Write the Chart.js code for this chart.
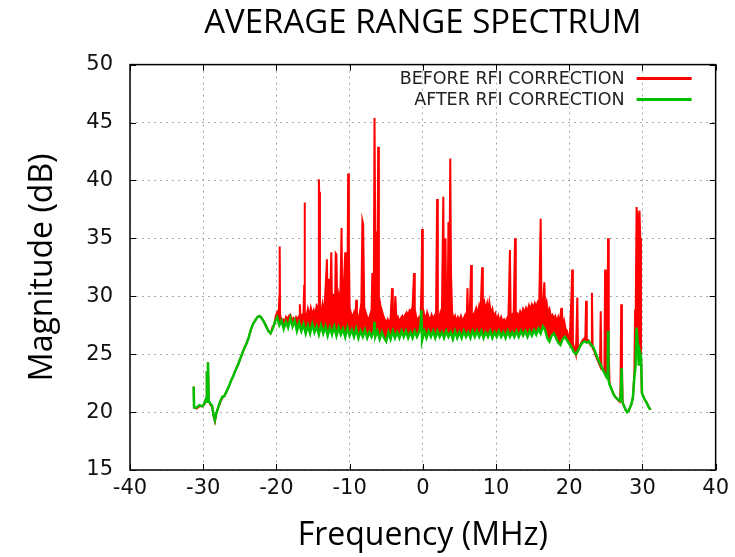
<!DOCTYPE html>
<html>
<head>
<meta charset="utf-8">
<script src="https://cdn.jsdelivr.net/npm/chart.js@4.4.0/dist/chart.umd.min.js"></script>
<style>
  body { margin: 0; background: #fff; }
  canvas { display: block; }
</style>
</head>
<body>
<canvas id="spectrum" width="735" height="557"></canvas>
<script>
// axis ticks
const xTicks = [-40, -30, -20, -10, 0, 10, 20, 30, 40];
const yTicks = [15, 20, 25, 30, 35, 40, 45, 50];

const seriesLabels = ['BEFORE RFI CORRECTION', 'AFTER RFI CORRECTION'];
const seriesColors = ['#ff0000', '#00c000'];

// [frequency MHz, magnitude dB] (upper edge of the red trace)
const beforeRfi = [
  [-31.3,22.2],[-31.25,20.4],[-30.9,20.3],[-30.5,20.5],[-30.1,20.5],[-29.8,20.7],[-29.6,21.1],[-29.5,23.5],
  [-29.45,20.9],[-29.35,24.3],[-29.25,21.0],[-29.0,20.6],[-28.8,20.5],[-28.6,19.7],[-28.4,19.2],[-28.2,19.9],
  [-28.0,20.3],[-27.7,20.8],[-27.4,21.2],[-27.1,21.4],[-26.8,21.8],[-26.5,22.2],[-26.2,22.7],[-25.9,23.1],
  [-25.6,23.6],[-25.3,24.0],[-25.0,24.5],[-24.7,25.0],[-24.4,25.5],[-24.1,25.9],[-23.8,26.4],[-23.5,27.1],
  [-23.2,27.6],[-22.9,27.9],[-22.6,28.2],[-22.3,28.3],[-22.0,28.1],[-21.7,27.8],[-21.4,27.4],[-21.1,27.0],
  [-20.8,26.8],[-20.5,27.4],[-20.3,27.5],[-20.1,28.3],[-19.9,28.6],[-19.7,28.2],[-19.6,30.0],[-19.55,34.3],
  [-19.5,28.4],[-19.3,27.9],[-19.1,28.0],[-18.9,27.7],[-18.7,28.2],[-18.5,28.0],[-18.3,28.3],[-18.1,28.4],
  [-17.9,27.9],[-17.7,28.1],[-17.5,27.8],[-17.3,28.2],[-17.1,28.0],[-16.9,28.3],[-16.8,29.3],[-16.7,28.1],
  [-16.5,28.4],[-16.3,28.5],[-16.2,31.0],[-16.15,38.1],[-16.1,28.6],[-15.9,28.2],[-15.7,28.9],[-15.5,28.3],
  [-15.3,29.0],[-15.1,28.4],[-14.9,28.8],[-14.7,28.3],[-14.5,29.2],[-14.3,29.0],[-14.2,40.1],[-14.15,39.0],
  [-14.05,28.8],[-13.9,28.5],[-13.7,29.3],[-13.5,28.4],[-13.3,30.5],[-13.1,33.2],[-13.0,28.7],[-12.8,31.5],
  [-12.7,28.6],[-12.5,33.8],[-12.4,28.8],[-12.2,30.2],[-12.0,28.5],[-11.9,33.7],[-11.8,33.6],[-11.7,28.9],
  [-11.5,30.0],[-11.3,28.6],[-11.1,35.9],[-11.0,29.0],[-10.8,30.8],[-10.6,33.8],[-10.5,28.8],[-10.3,29.5],
  [-10.2,40.6],[-10.1,34.3],[-10.0,29.0],[-9.8,28.5],[-9.6,28.2],[-9.4,28.6],[-9.2,28.0],[-9.1,29.7],
  [-9.0,28.3],[-8.8,28.1],[-8.6,28.6],[-8.4,29.4],[-8.25,36.5],[-8.15,36.2],[-8.0,29.0],[-7.8,28.6],
  [-7.6,28.2],[-7.4,27.9],[-7.2,28.4],[-7.0,28.8],[-6.9,32.0],[-6.7,30.0],[-6.6,45.4],[-6.5,35.6],
  [-6.4,33.0],[-6.2,30.5],[-6.1,42.9],[-6.0,30.0],[-5.8,29.2],[-5.6,28.8],[-5.4,28.3],[-5.2,28.0],
  [-5.0,27.7],[-4.8,28.0],[-4.6,27.6],[-4.4,28.1],[-4.2,30.7],[-4.1,27.8],[-3.9,28.0],[-3.75,30.0],
  [-3.6,27.9],[-3.4,28.2],[-3.2,27.8],[-3.0,28.1],[-2.8,28.3],[-2.6,28.0],[-2.4,28.4],[-2.2,28.6],
  [-2.0,28.3],[-1.8,28.8],[-1.6,28.7],[-1.4,29.1],[-1.2,32.0],[-1.1,28.9],[-0.9,28.2],[-0.7,27.9],
  [-0.5,28.2],[-0.3,28.0],[-0.15,32.0],[-0.1,35.8],[0.0,29.0],[0.2,28.4],[0.4,28.0],[0.6,28.6],
  [0.8,28.2],[1.0,27.9],[1.2,28.4],[1.4,28.0],[1.6,28.3],[1.8,28.0],[1.95,38.4],[2.05,28.4],
  [2.2,28.0],[2.4,28.6],[2.6,28.2],[2.8,38.6],[2.9,28.5],[3.1,35.0],[3.2,28.4],[3.4,29.0],
  [3.5,36.4],[3.6,28.8],[3.75,41.9],[3.85,32.0],[4.0,28.6],[4.2,28.0],[4.4,28.3],[4.6,27.8],
  [4.8,28.2],[5.0,27.9],[5.2,28.3],[5.4,27.9],[5.6,28.1],[5.8,28.4],[6.0,28.0],[6.1,30.7],
  [6.2,28.1],[6.4,28.3],[6.6,32.7],[6.7,28.2],[6.9,28.4],[7.1,28.6],[7.3,29.0],[7.5,28.5],
  [7.7,29.2],[7.9,28.7],[8.1,32.5],[8.2,29.0],[8.4,29.5],[8.6,28.8],[8.8,29.4],[9.0,28.6],
  [9.1,29.4],[9.3,28.5],[9.5,28.9],[9.7,28.2],[9.9,28.5],[10.1,27.9],[10.3,28.3],[10.5,27.8],
  [10.7,28.2],[10.9,27.8],[11.1,28.0],[11.3,27.7],[11.5,28.1],[11.7,28.3],[11.9,34.0],[12.0,28.2],
  [12.2,28.4],[12.4,28.0],[12.6,35.0],[12.7,28.3],[12.9,28.5],[13.1,28.2],[13.3,28.7],[13.5,28.4],
  [13.7,28.9],[13.9,28.6],[14.1,29.0],[14.3,28.7],[14.5,29.2],[14.7,28.8],[14.9,29.3],[15.1,29.0],
  [15.3,29.4],[15.5,29.1],[15.7,29.5],[15.9,29.2],[16.1,36.7],[16.2,29.5],[16.4,29.0],[16.6,31.2],
  [16.7,29.0],[16.9,29.5],[17.1,28.6],[17.3,28.9],[17.5,28.2],[17.7,28.4],[17.9,28.1],[18.1,28.3],
  [18.3,27.8],[18.5,28.2],[18.7,27.6],[18.9,28.9],[19.0,29.0],[19.1,27.5],[19.3,27.9],[19.5,27.2],
  [19.7,27.0],[19.9,26.4],[20.1,26.8],[20.3,30.0],[20.4,32.3],[20.5,26.0],[20.7,25.5],[20.9,25.0],
  [21.0,27.0],[21.1,29.9],[21.2,25.3],[21.4,25.6],[21.6,25.9],[21.8,26.2],[22.0,26.3],[22.2,26.5],
  [22.3,29.6],[22.4,26.1],[22.6,26.2],[22.8,25.9],[23.0,25.7],[23.1,30.3],[23.2,25.5],[23.4,25.3],
  [23.6,24.9],[23.8,24.6],[24.0,24.3],[24.2,24.0],[24.3,28.7],[24.4,23.8],[24.6,23.6],[24.8,23.4],
  [24.9,32.3],[25.0,23.1],[25.2,23.0],[25.3,35.0],[25.4,25.4],[25.5,22.5],[25.7,22.1],[25.9,21.8],
  [26.1,21.5],[26.3,21.3],[26.5,21.2],[26.7,21.0],[26.9,20.9],[27.0,22.0],[27.1,29.3],[27.2,24.2],
  [27.3,20.8],[27.5,20.5],[27.7,20.2],[27.9,20.0],[28.1,20.1],[28.3,20.4],[28.5,20.7],[28.7,21.2],
  [28.9,23.5],[29.0,28.8],[29.1,30.0],[29.2,37.7],[29.4,36.0],[29.6,37.4],[29.7,35.0],[29.8,25.1],
  [29.9,21.7],[30.1,21.4],[30.3,21.1],[30.5,20.9],[30.7,20.7],[30.9,20.4],[31.1,20.2]
];

const afterRfi = [
  [-31.3,22.2],[-31.25,20.4],[-30.9,20.4],[-30.5,20.6],[-30.1,20.5],[-29.8,20.8],[-29.6,21.2],[-29.5,23.5],
  [-29.45,20.9],[-29.35,24.3],[-29.25,21.0],[-29.0,20.7],[-28.8,20.6],[-28.6,19.8],[-28.4,19.3],[-28.2,19.9],
  [-28.0,20.3],[-27.7,20.9],[-27.4,21.3],[-27.1,21.4],[-26.8,21.8],[-26.5,22.2],[-26.2,22.7],[-25.9,23.1],
  [-25.6,23.6],[-25.3,24.0],[-25.0,24.5],[-24.7,25.0],[-24.4,25.5],[-24.1,25.9],[-23.8,26.4],[-23.5,27.1],
  [-23.2,27.6],[-22.9,27.9],[-22.6,28.2],[-22.3,28.3],[-22.0,28.1],[-21.7,27.8],[-21.4,27.4],[-21.1,27.0],
  [-20.8,26.8],[-20.5,27.2],[-20.2,27.8],[-19.9,28.2],[-19.6,27.5],[-19.3,27.9],[-19.0,27.2],[-18.7,27.8],
  [-18.4,27.3],[-18.1,28.1],[-17.8,27.4],[-17.5,27.9],[-17.2,27.0],[-16.9,27.7],[-16.6,27.0],[-16.3,27.6],
  [-16.0,26.8],[-15.7,27.5],[-15.4,26.8],[-15.1,27.6],[-14.8,26.9],[-14.5,27.4],[-14.2,26.7],[-13.9,27.5],
  [-13.6,26.8],[-13.3,27.4],[-13.0,26.6],[-12.7,27.3],[-12.4,26.7],[-12.1,27.4],[-11.8,26.6],[-11.5,27.3],
  [-11.2,26.7],[-10.9,27.2],[-10.6,26.5],[-10.3,27.3],[-10.0,26.6],[-9.7,27.1],[-9.4,26.5],[-9.1,27.2],
  [-8.8,26.4],[-8.5,27.0],[-8.2,26.5],[-7.9,27.1],[-7.6,26.4],[-7.3,26.9],[-7.0,26.5],[-6.7,27.0],
  [-6.6,27.8],[-6.5,26.5],[-6.2,27.0],[-5.9,26.3],[-5.6,26.9],[-5.3,26.4],[-5.0,26.1],[-4.7,26.9],
  [-4.4,26.3],[-4.1,27.0],[-3.8,26.4],[-3.5,26.9],[-3.2,26.4],[-2.9,27.0],[-2.6,26.5],[-2.3,27.0],
  [-2.0,26.4],[-1.7,26.9],[-1.4,26.4],[-1.1,27.0],[-0.8,26.5],[-0.5,26.9],[-0.3,27.5],[-0.2,28.8],
  [-0.1,26.2],[0.2,27.0],[0.5,26.4],[0.8,27.0],[1.1,26.5],[1.4,27.0],[1.7,26.4],[2.0,27.0],
  [2.3,26.5],[2.6,26.9],[2.9,26.4],[3.2,27.0],[3.5,26.5],[3.8,26.9],[4.1,26.3],[4.4,27.0],
  [4.7,26.4],[5.0,26.9],[5.3,26.4],[5.6,27.0],[5.9,26.5],[6.2,26.9],[6.5,26.4],[6.8,27.0],
  [7.1,26.5],[7.4,27.0],[7.7,26.5],[8.0,27.0],[8.3,26.4],[8.6,26.9],[8.9,26.5],[9.2,27.0],
  [9.5,26.4],[9.8,26.9],[10.1,26.5],[10.4,27.0],[10.7,26.5],[11.0,26.9],[11.3,26.4],[11.6,27.0],
  [11.9,26.5],[12.2,26.9],[12.5,26.5],[12.8,27.0],[13.1,26.5],[13.4,27.0],[13.7,26.6],[14.0,27.0],
  [14.3,26.5],[14.6,27.0],[14.9,26.6],[15.2,27.1],[15.5,26.7],[15.8,27.2],[16.1,26.8],[16.4,27.4],
  [16.7,27.1],[17.0,26.4],[17.3,26.1],[17.6,26.6],[17.9,26.8],[18.2,26.4],[18.5,26.0],[18.8,25.8],
  [19.1,26.3],[19.4,26.5],[19.7,26.2],[20.0,25.9],[20.3,25.6],[20.6,25.2],[20.9,25.0],[21.2,25.3],
  [21.5,25.7],[21.8,26.0],[22.1,26.1],[22.4,26.0],[22.7,26.1],[23.0,25.8],[23.3,25.6],[23.6,25.1],
  [23.9,24.6],[24.2,24.2],[24.5,23.8],[24.8,23.4],[25.1,23.0],[25.25,22.9],[25.3,27.0],[25.35,22.8],
  [25.5,22.4],[25.7,22.1],[26.0,21.6],[26.3,21.3],[26.6,21.1],[26.9,21.0],[27.05,21.5],[27.15,23.8],
  [27.25,20.9],[27.5,20.5],[27.7,20.2],[27.9,20.0],[28.1,20.1],[28.3,20.4],[28.5,20.7],[28.7,21.3],
  [28.9,23.0],[29.05,23.9],[29.2,27.3],[29.35,26.0],[29.5,24.0],[29.65,25.2],[29.8,24.8],[29.95,21.6],
  [30.2,21.2],[30.5,20.9],[30.8,20.5],[31.1,20.2]
];

// gnuplot style frame with inward ticks on all four sides
const framePlugin = {
  id: 'frame',
  afterDatasetsDraw(chart) {
    const ctx = chart.ctx;
    const a = chart.chartArea;
    const x = chart.scales.x, y = chart.scales.y;
    ctx.save();
    ctx.strokeStyle = '#000';
    ctx.lineWidth = 1;
    ctx.beginPath();
    xTicks.forEach(v => {
      const px = Math.round(x.getPixelForValue(v)) + 0.5;
      ctx.moveTo(px, a.bottom); ctx.lineTo(px, a.bottom - 6);
      ctx.moveTo(px, a.top); ctx.lineTo(px, a.top + 6);
    });
    yTicks.forEach(v => {
      const py = Math.round(y.getPixelForValue(v)) + 0.5;
      ctx.moveTo(a.left, py); ctx.lineTo(a.left + 6, py);
      ctx.moveTo(a.right, py); ctx.lineTo(a.right - 6, py);
    });
    ctx.stroke();
    ctx.lineWidth = 1.5;
    ctx.strokeRect(a.left, a.top, a.right - a.left, a.bottom - a.top);
    ctx.restore();
  }
};

// key in the top right corner: text first, then a line sample
const keyPlugin = {
  id: 'key',
  afterDraw(chart) {
    const ctx = chart.ctx;
    const a = chart.chartArea;
    ctx.save();
    ctx.font = '17.5px "DejaVu Sans"';
    ctx.textAlign = 'right';
    ctx.textBaseline = 'alphabetic';
    chart.data.datasets.forEach((ds, i) => {
      const row = a.top + 14 + i * 21;
      ctx.fillStyle = '#222';
      ctx.fillText(ds.label, a.right - 91, row + 5);
      ctx.strokeStyle = ds.borderColor;
      ctx.lineWidth = 3;
      ctx.beginPath();
      ctx.moveTo(a.right - 79, row);
      ctx.lineTo(a.right - 24, row);
      ctx.stroke();
    });
    ctx.restore();
  }
};

const toPoints = rows => rows.map(r => ({ x: r[0], y: r[1] }));

new Chart(document.getElementById('spectrum'), {
  type: 'line',
  data: {
    datasets: [
      { label: seriesLabels[0], data: toPoints(beforeRfi), borderColor: seriesColors[0],
        backgroundColor: seriesColors[0], borderWidth: 2, pointRadius: 0, tension: 0, order: 2,
        fill: { target: 1, above: seriesColors[0], below: 'rgba(0,0,0,0)' } },
      { label: seriesLabels[1], data: toPoints(afterRfi), borderColor: seriesColors[1],
        borderWidth: 2.5, pointRadius: 0, tension: 0, order: 1, fill: false }
    ]
  },
  options: {
    responsive: false,
    animation: false,
    layout: { padding: { right: 18 } },
    plugins: {
      legend: { display: false },
      tooltip: { enabled: false },
      title: {
        display: true,
        text: 'AVERAGE RANGE SPECTRUM',
        fullSize: false,
        color: '#000',
        font: { family: '"Open Sans"', size: 33, weight: 'normal' },
        padding: { top: 4, bottom: 21 }
      }
    },
    scales: {
      x: {
        type: 'linear',
        min: -40, max: 40,
        afterBuildTicks: s => { s.ticks = xTicks.map(v => ({ value: v })); },
        afterFit: s => { s.height = 87; },
        grid: { color: '#a8a8a8', lineWidth: 1, drawTicks: false },
        border: { display: false, dash: [2, 4] },
        ticks: { color: '#111', padding: 6, font: { family: '"DejaVu Sans"', size: 21 } },
        title: {
          display: true, text: 'Frequency (MHz)', color: '#000',
          font: { family: '"Open Sans"', size: 32 }, padding: { bottom: 2 }
        }
      },
      y: {
        min: 15, max: 50,
        afterBuildTicks: s => { s.ticks = yTicks.map(v => ({ value: v })); },
        afterFit: s => { s.width = 130; },
        grid: { color: '#a8a8a8', lineWidth: 1, drawTicks: false },
        border: { display: false, dash: [2, 4] },
        ticks: { color: '#111', padding: 17, font: { family: '"DejaVu Sans"', size: 21 } },
        title: {
          display: true, text: 'Magnitude (dB)', color: '#000',
          font: { family: '"Open Sans"', size: 32 }, padding: { top: 24 }
        }
      }
    }
  },
  plugins: [framePlugin, keyPlugin]
});
</script>
</body>
</html>
